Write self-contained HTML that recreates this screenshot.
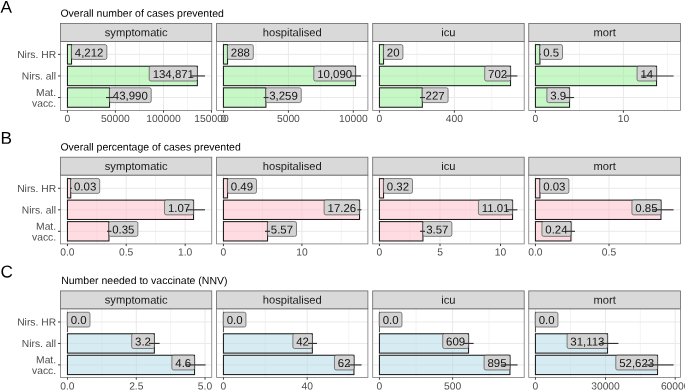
<!DOCTYPE html>
<html><head><meta charset="utf-8"><title>Figure</title>
<style>html,body{margin:0;padding:0;background:#fff;overflow:hidden}body{width:685px;height:390px;font-family:"Liberation Sans", sans-serif}</style>
</head><body>
<svg width="685" height="390" viewBox="0 0 685 390" style="display:block;will-change:transform;font-family:'Liberation Sans', sans-serif">
<rect width="685" height="390" fill="#fff"/>
<text x="0.60" y="12.70" font-size="17.2" fill="#000" transform="rotate(0.05 0.60 12.70)">A</text>
<text x="60.40" y="16.75" font-size="10.5" fill="#000" transform="rotate(0.05 60.40 16.75)">Overall number of cases prevented</text>
<rect x="60.55" y="41.40" width="151.2" height="69.10" fill="#fff"/>
<line x1="91.40" x2="91.40" y1="41.40" y2="110.50" stroke="#ebebeb" stroke-width="0.6"/>
<line x1="139.50" x2="139.50" y1="41.40" y2="110.50" stroke="#ebebeb" stroke-width="0.6"/>
<line x1="187.50" x2="187.50" y1="41.40" y2="110.50" stroke="#ebebeb" stroke-width="0.6"/>
<line x1="67.46" x2="67.46" y1="41.40" y2="110.50" stroke="#e9e9e9" stroke-width="1.0"/>
<line x1="115.40" x2="115.40" y1="41.40" y2="110.50" stroke="#e9e9e9" stroke-width="1.0"/>
<line x1="163.50" x2="163.50" y1="41.40" y2="110.50" stroke="#e9e9e9" stroke-width="1.0"/>
<line x1="211.50" x2="211.50" y1="41.40" y2="110.50" stroke="#e9e9e9" stroke-width="1.0"/>
<line x1="60.55" x2="211.75" y1="54.36" y2="54.36" stroke="#e9e9e9" stroke-width="1.0"/>
<line x1="60.55" x2="211.75" y1="75.95" y2="75.95" stroke="#e9e9e9" stroke-width="1.0"/>
<line x1="60.55" x2="211.75" y1="97.54" y2="97.54" stroke="#e9e9e9" stroke-width="1.0"/>
<rect x="67.46" y="44.64" width="4.09" height="19.43" fill="#90ee90" fill-opacity="0.5" stroke="#1c1c1c" stroke-width="1.05"/>
<rect x="67.46" y="66.23" width="129.89" height="19.43" fill="#90ee90" fill-opacity="0.5" stroke="#1c1c1c" stroke-width="1.05"/>
<rect x="67.46" y="87.83" width="42.09" height="19.43" fill="#90ee90" fill-opacity="0.5" stroke="#1c1c1c" stroke-width="1.05"/>
<rect x="71.40" y="44.61" width="35.45" height="14.8" rx="1.7" fill="#d3d3d3" stroke="#3a3a3a" stroke-width="0.62"/>
<text x="89.12" y="56.46" font-size="11.45" text-anchor="middle" fill="#111" transform="rotate(0.05 89.12 56.46)">4,212</text>
<rect x="149.22" y="66.20" width="48.18" height="14.8" rx="1.7" fill="#d3d3d3" stroke="#3a3a3a" stroke-width="0.62"/>
<text x="173.31" y="78.05" font-size="11.45" text-anchor="middle" fill="#111" transform="rotate(0.05 173.31 78.05)">134,871</text>
<rect x="109.40" y="87.79" width="41.81" height="14.8" rx="1.7" fill="#d3d3d3" stroke="#3a3a3a" stroke-width="0.62"/>
<text x="130.31" y="99.64" font-size="11.45" text-anchor="middle" fill="#111" transform="rotate(0.05 130.31 99.64)">43,990</text>
<line x1="191.00" x2="205.00" y1="75.95" y2="75.95" stroke="#303030" stroke-width="1.15"/>
<line x1="106.00" x2="113.50" y1="97.54" y2="97.54" stroke="#303030" stroke-width="1.15"/>
<rect x="60.55" y="41.40" width="151.2" height="69.10" fill="none" stroke="#7a7a7a" stroke-width="0.8"/>
<rect x="60.55" y="23.45" width="151.2" height="17.95" fill="#d9d9d9" stroke="#666" stroke-width="0.8"/>
<text x="136.15" y="36.20" font-size="11.2" text-anchor="middle" fill="#1a1a1a" transform="rotate(0.05 136.15 36.20)">symptomatic</text>
<line x1="67.46" x2="67.46" y1="110.50" y2="112.70" stroke="#333" stroke-width="0.95"/>
<text x="67.46" y="122.00" font-size="10.3" text-anchor="middle" fill="#4d4d4d" transform="rotate(0.05 67.46 122.00)">0</text>
<line x1="115.40" x2="115.40" y1="110.50" y2="112.70" stroke="#333" stroke-width="0.95"/>
<text x="115.40" y="122.00" font-size="10.3" text-anchor="middle" fill="#4d4d4d" transform="rotate(0.05 115.40 122.00)">50000</text>
<line x1="163.50" x2="163.50" y1="110.50" y2="112.70" stroke="#333" stroke-width="0.95"/>
<text x="163.50" y="122.00" font-size="10.3" text-anchor="middle" fill="#4d4d4d" transform="rotate(0.05 163.50 122.00)">100000</text>
<line x1="211.50" x2="211.50" y1="110.50" y2="112.70" stroke="#333" stroke-width="0.95"/>
<text x="211.50" y="122.00" font-size="10.3" text-anchor="middle" fill="#4d4d4d" transform="rotate(0.05 211.50 122.00)">150000</text>
<rect x="216.60" y="41.40" width="151.29999999999998" height="69.10" fill="#fff"/>
<line x1="256.00" x2="256.00" y1="41.40" y2="110.50" stroke="#ebebeb" stroke-width="0.6"/>
<line x1="320.80" x2="320.80" y1="41.40" y2="110.50" stroke="#ebebeb" stroke-width="0.6"/>
<line x1="223.44" x2="223.44" y1="41.40" y2="110.50" stroke="#e9e9e9" stroke-width="1.0"/>
<line x1="288.40" x2="288.40" y1="41.40" y2="110.50" stroke="#e9e9e9" stroke-width="1.0"/>
<line x1="353.30" x2="353.30" y1="41.40" y2="110.50" stroke="#e9e9e9" stroke-width="1.0"/>
<line x1="216.60" x2="367.90" y1="54.36" y2="54.36" stroke="#e9e9e9" stroke-width="1.0"/>
<line x1="216.60" x2="367.90" y1="75.95" y2="75.95" stroke="#e9e9e9" stroke-width="1.0"/>
<line x1="216.60" x2="367.90" y1="97.54" y2="97.54" stroke="#e9e9e9" stroke-width="1.0"/>
<rect x="223.44" y="44.64" width="4.11" height="19.43" fill="#90ee90" fill-opacity="0.5" stroke="#1c1c1c" stroke-width="1.05"/>
<rect x="223.44" y="66.23" width="132.11" height="19.43" fill="#90ee90" fill-opacity="0.5" stroke="#1c1c1c" stroke-width="1.05"/>
<rect x="223.44" y="87.83" width="42.51" height="19.43" fill="#90ee90" fill-opacity="0.5" stroke="#1c1c1c" stroke-width="1.05"/>
<rect x="227.40" y="44.61" width="25.90" height="14.8" rx="1.7" fill="#d3d3d3" stroke="#3a3a3a" stroke-width="0.62"/>
<text x="240.35" y="56.46" font-size="11.45" text-anchor="middle" fill="#111" transform="rotate(0.05 240.35 56.46)">288</text>
<rect x="313.79" y="66.20" width="41.81" height="14.8" rx="1.7" fill="#d3d3d3" stroke="#3a3a3a" stroke-width="0.62"/>
<text x="334.69" y="78.05" font-size="11.45" text-anchor="middle" fill="#111" transform="rotate(0.05 334.69 78.05)">10,090</text>
<rect x="265.80" y="87.79" width="35.45" height="14.8" rx="1.7" fill="#d3d3d3" stroke="#3a3a3a" stroke-width="0.62"/>
<text x="283.52" y="99.64" font-size="11.45" text-anchor="middle" fill="#111" transform="rotate(0.05 283.52 99.64)">3,259</text>
<line x1="350.00" x2="361.00" y1="75.95" y2="75.95" stroke="#303030" stroke-width="1.15"/>
<line x1="263.60" x2="268.60" y1="97.54" y2="97.54" stroke="#303030" stroke-width="1.15"/>
<rect x="216.60" y="41.40" width="151.29999999999998" height="69.10" fill="none" stroke="#7a7a7a" stroke-width="0.8"/>
<rect x="216.60" y="23.45" width="151.29999999999998" height="17.95" fill="#d9d9d9" stroke="#666" stroke-width="0.8"/>
<text x="292.25" y="36.20" font-size="11.2" text-anchor="middle" fill="#1a1a1a" transform="rotate(0.05 292.25 36.20)">hospitalised</text>
<line x1="223.44" x2="223.44" y1="110.50" y2="112.70" stroke="#333" stroke-width="0.95"/>
<text x="223.44" y="122.00" font-size="10.3" text-anchor="middle" fill="#4d4d4d" transform="rotate(0.05 223.44 122.00)">0</text>
<line x1="288.40" x2="288.40" y1="110.50" y2="112.70" stroke="#333" stroke-width="0.95"/>
<text x="288.40" y="122.00" font-size="10.3" text-anchor="middle" fill="#4d4d4d" transform="rotate(0.05 288.40 122.00)">5000</text>
<line x1="353.30" x2="353.30" y1="110.50" y2="112.70" stroke="#333" stroke-width="0.95"/>
<text x="353.30" y="122.00" font-size="10.3" text-anchor="middle" fill="#4d4d4d" transform="rotate(0.05 353.30 122.00)">10000</text>
<rect x="372.70" y="41.40" width="151.50000000000006" height="69.10" fill="#fff"/>
<line x1="417.00" x2="417.00" y1="41.40" y2="110.50" stroke="#ebebeb" stroke-width="0.6"/>
<line x1="491.80" x2="491.80" y1="41.40" y2="110.50" stroke="#ebebeb" stroke-width="0.6"/>
<line x1="379.44" x2="379.44" y1="41.40" y2="110.50" stroke="#e9e9e9" stroke-width="1.0"/>
<line x1="454.40" x2="454.40" y1="41.40" y2="110.50" stroke="#e9e9e9" stroke-width="1.0"/>
<line x1="372.70" x2="524.20" y1="54.36" y2="54.36" stroke="#e9e9e9" stroke-width="1.0"/>
<line x1="372.70" x2="524.20" y1="75.95" y2="75.95" stroke="#e9e9e9" stroke-width="1.0"/>
<line x1="372.70" x2="524.20" y1="97.54" y2="97.54" stroke="#e9e9e9" stroke-width="1.0"/>
<rect x="379.44" y="44.64" width="4.11" height="19.43" fill="#90ee90" fill-opacity="0.5" stroke="#1c1c1c" stroke-width="1.05"/>
<rect x="379.44" y="66.23" width="131.11" height="19.43" fill="#90ee90" fill-opacity="0.5" stroke="#1c1c1c" stroke-width="1.05"/>
<rect x="379.44" y="87.83" width="42.91" height="19.43" fill="#90ee90" fill-opacity="0.5" stroke="#1c1c1c" stroke-width="1.05"/>
<rect x="383.40" y="44.61" width="19.53" height="14.8" rx="1.7" fill="#d3d3d3" stroke="#3a3a3a" stroke-width="0.62"/>
<text x="393.17" y="56.46" font-size="11.45" text-anchor="middle" fill="#111" transform="rotate(0.05 393.17 56.46)">20</text>
<rect x="484.70" y="66.20" width="25.90" height="14.8" rx="1.7" fill="#d3d3d3" stroke="#3a3a3a" stroke-width="0.62"/>
<text x="497.65" y="78.05" font-size="11.45" text-anchor="middle" fill="#111" transform="rotate(0.05 497.65 78.05)">702</text>
<rect x="422.20" y="87.79" width="25.90" height="14.8" rx="1.7" fill="#d3d3d3" stroke="#3a3a3a" stroke-width="0.62"/>
<text x="435.15" y="99.64" font-size="11.45" text-anchor="middle" fill="#111" transform="rotate(0.05 435.15 99.64)">227</text>
<line x1="505.00" x2="517.40" y1="75.95" y2="75.95" stroke="#303030" stroke-width="1.15"/>
<line x1="420.00" x2="425.00" y1="97.54" y2="97.54" stroke="#303030" stroke-width="1.15"/>
<rect x="372.70" y="41.40" width="151.50000000000006" height="69.10" fill="none" stroke="#7a7a7a" stroke-width="0.8"/>
<rect x="372.70" y="23.45" width="151.50000000000006" height="17.95" fill="#d9d9d9" stroke="#666" stroke-width="0.8"/>
<text x="448.45" y="36.20" font-size="11.2" text-anchor="middle" fill="#1a1a1a" transform="rotate(0.05 448.45 36.20)">icu</text>
<line x1="379.44" x2="379.44" y1="110.50" y2="112.70" stroke="#333" stroke-width="0.95"/>
<text x="379.44" y="122.00" font-size="10.3" text-anchor="middle" fill="#4d4d4d" transform="rotate(0.05 379.44 122.00)">0</text>
<line x1="454.40" x2="454.40" y1="110.50" y2="112.70" stroke="#333" stroke-width="0.95"/>
<text x="454.40" y="122.00" font-size="10.3" text-anchor="middle" fill="#4d4d4d" transform="rotate(0.05 454.40 122.00)">400</text>
<rect x="528.75" y="41.40" width="151.75" height="69.10" fill="#fff"/>
<line x1="579.50" x2="579.50" y1="41.40" y2="110.50" stroke="#ebebeb" stroke-width="0.6"/>
<line x1="667.30" x2="667.30" y1="41.40" y2="110.50" stroke="#ebebeb" stroke-width="0.6"/>
<line x1="535.44" x2="535.44" y1="41.40" y2="110.50" stroke="#e9e9e9" stroke-width="1.0"/>
<line x1="623.40" x2="623.40" y1="41.40" y2="110.50" stroke="#e9e9e9" stroke-width="1.0"/>
<line x1="528.75" x2="680.50" y1="54.36" y2="54.36" stroke="#e9e9e9" stroke-width="1.0"/>
<line x1="528.75" x2="680.50" y1="75.95" y2="75.95" stroke="#e9e9e9" stroke-width="1.0"/>
<line x1="528.75" x2="680.50" y1="97.54" y2="97.54" stroke="#e9e9e9" stroke-width="1.0"/>
<rect x="535.44" y="44.64" width="4.51" height="19.43" fill="#90ee90" fill-opacity="0.5" stroke="#1c1c1c" stroke-width="1.05"/>
<rect x="535.44" y="66.23" width="121.11" height="19.43" fill="#90ee90" fill-opacity="0.5" stroke="#1c1c1c" stroke-width="1.05"/>
<rect x="535.44" y="87.83" width="34.11" height="19.43" fill="#90ee90" fill-opacity="0.5" stroke="#1c1c1c" stroke-width="1.05"/>
<rect x="539.80" y="44.61" width="22.72" height="14.8" rx="1.7" fill="#d3d3d3" stroke="#3a3a3a" stroke-width="0.62"/>
<text x="551.16" y="56.46" font-size="11.45" text-anchor="middle" fill="#111" transform="rotate(0.05 551.16 56.46)">0.5</text>
<rect x="637.07" y="66.20" width="19.53" height="14.8" rx="1.7" fill="#d3d3d3" stroke="#3a3a3a" stroke-width="0.62"/>
<text x="646.83" y="78.05" font-size="11.45" text-anchor="middle" fill="#111" transform="rotate(0.05 646.83 78.05)">14</text>
<rect x="546.88" y="87.79" width="22.72" height="14.8" rx="1.7" fill="#d3d3d3" stroke="#3a3a3a" stroke-width="0.62"/>
<text x="558.24" y="99.64" font-size="11.45" text-anchor="middle" fill="#111" transform="rotate(0.05 558.24 99.64)">3.9</text>
<line x1="539.80" x2="540.80" y1="54.36" y2="54.36" stroke="#303030" stroke-width="1.15"/>
<line x1="641.00" x2="673.60" y1="75.95" y2="75.95" stroke="#303030" stroke-width="1.15"/>
<line x1="565.00" x2="574.00" y1="97.54" y2="97.54" stroke="#303030" stroke-width="1.15"/>
<rect x="528.75" y="41.40" width="151.75" height="69.10" fill="none" stroke="#7a7a7a" stroke-width="0.8"/>
<rect x="528.75" y="23.45" width="151.75" height="17.95" fill="#d9d9d9" stroke="#666" stroke-width="0.8"/>
<text x="604.62" y="36.20" font-size="11.2" text-anchor="middle" fill="#1a1a1a" transform="rotate(0.05 604.62 36.20)">mort</text>
<line x1="535.44" x2="535.44" y1="110.50" y2="112.70" stroke="#333" stroke-width="0.95"/>
<text x="535.44" y="122.00" font-size="10.3" text-anchor="middle" fill="#4d4d4d" transform="rotate(0.05 535.44 122.00)">0</text>
<line x1="623.40" x2="623.40" y1="110.50" y2="112.70" stroke="#333" stroke-width="0.95"/>
<text x="623.40" y="122.00" font-size="10.3" text-anchor="middle" fill="#4d4d4d" transform="rotate(0.05 623.40 122.00)">10</text>
<line x1="58.0" x2="60.5" y1="54.36" y2="54.36" stroke="#333" stroke-width="0.95"/>
<text x="56.10" y="58.01" font-size="10.3" text-anchor="end" fill="#4d4d4d" transform="rotate(0.05 56.10 58.01)">Nirs. HR</text>
<line x1="58.0" x2="60.5" y1="75.95" y2="75.95" stroke="#333" stroke-width="0.95"/>
<text x="56.10" y="79.60" font-size="10.3" text-anchor="end" fill="#4d4d4d" transform="rotate(0.05 56.10 79.60)">Nirs. all</text>
<line x1="58.0" x2="60.5" y1="97.54" y2="97.54" stroke="#333" stroke-width="0.95"/>
<text x="56.10" y="95.94" font-size="10.3" text-anchor="end" fill="#4d4d4d" transform="rotate(0.05 56.10 95.94)">Mat.</text>
<text x="56.10" y="106.69" font-size="10.3" text-anchor="end" fill="#4d4d4d" transform="rotate(0.05 56.10 106.69)">vacc.</text>
<text x="0.60" y="143.80" font-size="17.2" fill="#000" transform="rotate(0.05 0.60 143.80)">B</text>
<text x="60.40" y="150.40" font-size="10.5" fill="#000" transform="rotate(0.05 60.40 150.40)">Overall percentage of cases prevented</text>
<rect x="60.55" y="175.10" width="151.2" height="68.80" fill="#fff"/>
<line x1="96.80" x2="96.80" y1="175.10" y2="243.90" stroke="#ebebeb" stroke-width="0.6"/>
<line x1="155.60" x2="155.60" y1="175.10" y2="243.90" stroke="#ebebeb" stroke-width="0.6"/>
<line x1="67.46" x2="67.46" y1="175.10" y2="243.90" stroke="#e9e9e9" stroke-width="1.0"/>
<line x1="126.20" x2="126.20" y1="175.10" y2="243.90" stroke="#e9e9e9" stroke-width="1.0"/>
<line x1="185.20" x2="185.20" y1="175.10" y2="243.90" stroke="#e9e9e9" stroke-width="1.0"/>
<line x1="60.55" x2="211.75" y1="188.30" y2="188.30" stroke="#e9e9e9" stroke-width="1.0"/>
<line x1="60.55" x2="211.75" y1="209.80" y2="209.80" stroke="#e9e9e9" stroke-width="1.0"/>
<line x1="60.55" x2="211.75" y1="231.30" y2="231.30" stroke="#e9e9e9" stroke-width="1.0"/>
<rect x="67.46" y="178.62" width="3.29" height="19.35" fill="#ffc0cb" fill-opacity="0.55" stroke="#1c1c1c" stroke-width="1.05"/>
<rect x="67.46" y="200.12" width="126.09" height="19.35" fill="#ffc0cb" fill-opacity="0.55" stroke="#1c1c1c" stroke-width="1.05"/>
<rect x="67.46" y="221.62" width="41.49" height="19.35" fill="#ffc0cb" fill-opacity="0.55" stroke="#1c1c1c" stroke-width="1.05"/>
<rect x="70.60" y="178.55" width="29.08" height="14.8" rx="1.7" fill="#d3d3d3" stroke="#3a3a3a" stroke-width="0.62"/>
<text x="85.14" y="190.40" font-size="11.45" text-anchor="middle" fill="#111" transform="rotate(0.05 85.14 190.40)">0.03</text>
<rect x="164.52" y="200.05" width="29.08" height="14.8" rx="1.7" fill="#d3d3d3" stroke="#3a3a3a" stroke-width="0.62"/>
<text x="179.06" y="211.90" font-size="11.45" text-anchor="middle" fill="#111" transform="rotate(0.05 179.06 211.90)">1.07</text>
<rect x="108.80" y="221.55" width="29.08" height="14.8" rx="1.7" fill="#d3d3d3" stroke="#3a3a3a" stroke-width="0.62"/>
<text x="123.34" y="233.40" font-size="11.45" text-anchor="middle" fill="#111" transform="rotate(0.05 123.34 233.40)">0.35</text>
<line x1="70.40" x2="71.80" y1="188.30" y2="188.30" stroke="#303030" stroke-width="1.15"/>
<line x1="187.00" x2="205.00" y1="209.80" y2="209.80" stroke="#303030" stroke-width="1.15"/>
<line x1="107.00" x2="111.50" y1="231.30" y2="231.30" stroke="#303030" stroke-width="1.15"/>
<rect x="60.55" y="175.10" width="151.2" height="68.80" fill="none" stroke="#7a7a7a" stroke-width="0.8"/>
<rect x="60.55" y="157.20" width="151.2" height="17.90" fill="#d9d9d9" stroke="#666" stroke-width="0.8"/>
<text x="136.15" y="169.95" font-size="11.2" text-anchor="middle" fill="#1a1a1a" transform="rotate(0.05 136.15 169.95)">symptomatic</text>
<line x1="67.46" x2="67.46" y1="243.90" y2="246.10" stroke="#333" stroke-width="0.95"/>
<text x="67.46" y="255.60" font-size="10.3" text-anchor="middle" fill="#4d4d4d" transform="rotate(0.05 67.46 255.60)">0.0</text>
<line x1="126.20" x2="126.20" y1="243.90" y2="246.10" stroke="#333" stroke-width="0.95"/>
<text x="126.20" y="255.60" font-size="10.3" text-anchor="middle" fill="#4d4d4d" transform="rotate(0.05 126.20 255.60)">0.5</text>
<line x1="185.20" x2="185.20" y1="243.90" y2="246.10" stroke="#333" stroke-width="0.95"/>
<text x="185.20" y="255.60" font-size="10.3" text-anchor="middle" fill="#4d4d4d" transform="rotate(0.05 185.20 255.60)">1.0</text>
<rect x="216.60" y="175.10" width="151.29999999999998" height="68.80" fill="#fff"/>
<line x1="262.60" x2="262.60" y1="175.10" y2="243.90" stroke="#ebebeb" stroke-width="0.6"/>
<line x1="341.30" x2="341.30" y1="175.10" y2="243.90" stroke="#ebebeb" stroke-width="0.6"/>
<line x1="223.44" x2="223.44" y1="175.10" y2="243.90" stroke="#e9e9e9" stroke-width="1.0"/>
<line x1="301.90" x2="301.90" y1="175.10" y2="243.90" stroke="#e9e9e9" stroke-width="1.0"/>
<line x1="216.60" x2="367.90" y1="188.30" y2="188.30" stroke="#e9e9e9" stroke-width="1.0"/>
<line x1="216.60" x2="367.90" y1="209.80" y2="209.80" stroke="#e9e9e9" stroke-width="1.0"/>
<line x1="216.60" x2="367.90" y1="231.30" y2="231.30" stroke="#e9e9e9" stroke-width="1.0"/>
<rect x="223.44" y="178.62" width="4.11" height="19.35" fill="#ffc0cb" fill-opacity="0.55" stroke="#1c1c1c" stroke-width="1.05"/>
<rect x="223.44" y="200.12" width="136.11" height="19.35" fill="#ffc0cb" fill-opacity="0.55" stroke="#1c1c1c" stroke-width="1.05"/>
<rect x="223.44" y="221.62" width="44.11" height="19.35" fill="#ffc0cb" fill-opacity="0.55" stroke="#1c1c1c" stroke-width="1.05"/>
<rect x="227.40" y="178.55" width="29.08" height="14.8" rx="1.7" fill="#d3d3d3" stroke="#3a3a3a" stroke-width="0.62"/>
<text x="241.94" y="190.40" font-size="11.45" text-anchor="middle" fill="#111" transform="rotate(0.05 241.94 190.40)">0.49</text>
<rect x="324.15" y="200.05" width="35.45" height="14.8" rx="1.7" fill="#d3d3d3" stroke="#3a3a3a" stroke-width="0.62"/>
<text x="341.88" y="211.90" font-size="11.45" text-anchor="middle" fill="#111" transform="rotate(0.05 341.88 211.90)">17.26</text>
<rect x="267.40" y="221.55" width="29.08" height="14.8" rx="1.7" fill="#d3d3d3" stroke="#3a3a3a" stroke-width="0.62"/>
<text x="281.94" y="233.40" font-size="11.45" text-anchor="middle" fill="#111" transform="rotate(0.05 281.94 233.40)">5.57</text>
<line x1="357.40" x2="361.40" y1="209.80" y2="209.80" stroke="#303030" stroke-width="1.15"/>
<line x1="265.00" x2="270.00" y1="231.30" y2="231.30" stroke="#303030" stroke-width="1.15"/>
<rect x="216.60" y="175.10" width="151.29999999999998" height="68.80" fill="none" stroke="#7a7a7a" stroke-width="0.8"/>
<rect x="216.60" y="157.20" width="151.29999999999998" height="17.90" fill="#d9d9d9" stroke="#666" stroke-width="0.8"/>
<text x="292.25" y="169.95" font-size="11.2" text-anchor="middle" fill="#1a1a1a" transform="rotate(0.05 292.25 169.95)">hospitalised</text>
<line x1="223.44" x2="223.44" y1="243.90" y2="246.10" stroke="#333" stroke-width="0.95"/>
<text x="223.44" y="255.60" font-size="10.3" text-anchor="middle" fill="#4d4d4d" transform="rotate(0.05 223.44 255.60)">0</text>
<line x1="301.90" x2="301.90" y1="243.90" y2="246.10" stroke="#333" stroke-width="0.95"/>
<text x="301.90" y="255.60" font-size="10.3" text-anchor="middle" fill="#4d4d4d" transform="rotate(0.05 301.90 255.60)">10</text>
<rect x="372.70" y="175.10" width="151.50000000000006" height="68.80" fill="#fff"/>
<line x1="409.80" x2="409.80" y1="175.10" y2="243.90" stroke="#ebebeb" stroke-width="0.6"/>
<line x1="470.40" x2="470.40" y1="175.10" y2="243.90" stroke="#ebebeb" stroke-width="0.6"/>
<line x1="379.44" x2="379.44" y1="175.10" y2="243.90" stroke="#e9e9e9" stroke-width="1.0"/>
<line x1="440.00" x2="440.00" y1="175.10" y2="243.90" stroke="#e9e9e9" stroke-width="1.0"/>
<line x1="500.50" x2="500.50" y1="175.10" y2="243.90" stroke="#e9e9e9" stroke-width="1.0"/>
<line x1="372.70" x2="524.20" y1="188.30" y2="188.30" stroke="#e9e9e9" stroke-width="1.0"/>
<line x1="372.70" x2="524.20" y1="209.80" y2="209.80" stroke="#e9e9e9" stroke-width="1.0"/>
<line x1="372.70" x2="524.20" y1="231.30" y2="231.30" stroke="#e9e9e9" stroke-width="1.0"/>
<rect x="379.44" y="178.62" width="4.11" height="19.35" fill="#ffc0cb" fill-opacity="0.55" stroke="#1c1c1c" stroke-width="1.05"/>
<rect x="379.44" y="200.12" width="133.11" height="19.35" fill="#ffc0cb" fill-opacity="0.55" stroke="#1c1c1c" stroke-width="1.05"/>
<rect x="379.44" y="221.62" width="43.51" height="19.35" fill="#ffc0cb" fill-opacity="0.55" stroke="#1c1c1c" stroke-width="1.05"/>
<rect x="383.40" y="178.55" width="29.08" height="14.8" rx="1.7" fill="#d3d3d3" stroke="#3a3a3a" stroke-width="0.62"/>
<text x="397.94" y="190.40" font-size="11.45" text-anchor="middle" fill="#111" transform="rotate(0.05 397.94 190.40)">0.32</text>
<rect x="478.45" y="200.05" width="34.15" height="14.8" rx="1.7" fill="#d3d3d3" stroke="#3a3a3a" stroke-width="0.62"/>
<text x="495.53" y="211.90" font-size="11.45" text-anchor="middle" fill="#111" transform="rotate(0.05 495.53 211.90)">11.01</text>
<rect x="422.80" y="221.55" width="29.08" height="14.8" rx="1.7" fill="#d3d3d3" stroke="#3a3a3a" stroke-width="0.62"/>
<text x="437.34" y="233.40" font-size="11.45" text-anchor="middle" fill="#111" transform="rotate(0.05 437.34 233.40)">3.57</text>
<line x1="506.60" x2="517.40" y1="209.80" y2="209.80" stroke="#303030" stroke-width="1.15"/>
<line x1="420.00" x2="425.00" y1="231.30" y2="231.30" stroke="#303030" stroke-width="1.15"/>
<rect x="372.70" y="175.10" width="151.50000000000006" height="68.80" fill="none" stroke="#7a7a7a" stroke-width="0.8"/>
<rect x="372.70" y="157.20" width="151.50000000000006" height="17.90" fill="#d9d9d9" stroke="#666" stroke-width="0.8"/>
<text x="448.45" y="169.95" font-size="11.2" text-anchor="middle" fill="#1a1a1a" transform="rotate(0.05 448.45 169.95)">icu</text>
<line x1="379.44" x2="379.44" y1="243.90" y2="246.10" stroke="#333" stroke-width="0.95"/>
<text x="379.44" y="255.60" font-size="10.3" text-anchor="middle" fill="#4d4d4d" transform="rotate(0.05 379.44 255.60)">0</text>
<line x1="440.00" x2="440.00" y1="243.90" y2="246.10" stroke="#333" stroke-width="0.95"/>
<text x="440.00" y="255.60" font-size="10.3" text-anchor="middle" fill="#4d4d4d" transform="rotate(0.05 440.00 255.60)">5</text>
<line x1="500.50" x2="500.50" y1="243.90" y2="246.10" stroke="#333" stroke-width="0.95"/>
<text x="500.50" y="255.60" font-size="10.3" text-anchor="middle" fill="#4d4d4d" transform="rotate(0.05 500.50 255.60)">10</text>
<rect x="528.75" y="175.10" width="151.75" height="68.80" fill="#fff"/>
<line x1="572.40" x2="572.40" y1="175.10" y2="243.90" stroke="#ebebeb" stroke-width="0.6"/>
<line x1="646.00" x2="646.00" y1="175.10" y2="243.90" stroke="#ebebeb" stroke-width="0.6"/>
<line x1="535.44" x2="535.44" y1="175.10" y2="243.90" stroke="#e9e9e9" stroke-width="1.0"/>
<line x1="609.00" x2="609.00" y1="175.10" y2="243.90" stroke="#e9e9e9" stroke-width="1.0"/>
<line x1="528.75" x2="680.50" y1="188.30" y2="188.30" stroke="#e9e9e9" stroke-width="1.0"/>
<line x1="528.75" x2="680.50" y1="209.80" y2="209.80" stroke="#e9e9e9" stroke-width="1.0"/>
<line x1="528.75" x2="680.50" y1="231.30" y2="231.30" stroke="#e9e9e9" stroke-width="1.0"/>
<rect x="535.44" y="178.62" width="4.51" height="19.35" fill="#ffc0cb" fill-opacity="0.55" stroke="#1c1c1c" stroke-width="1.05"/>
<rect x="535.44" y="200.12" width="125.51" height="19.35" fill="#ffc0cb" fill-opacity="0.55" stroke="#1c1c1c" stroke-width="1.05"/>
<rect x="535.44" y="221.62" width="35.51" height="19.35" fill="#ffc0cb" fill-opacity="0.55" stroke="#1c1c1c" stroke-width="1.05"/>
<rect x="539.80" y="178.55" width="29.08" height="14.8" rx="1.7" fill="#d3d3d3" stroke="#3a3a3a" stroke-width="0.62"/>
<text x="554.34" y="190.40" font-size="11.45" text-anchor="middle" fill="#111" transform="rotate(0.05 554.34 190.40)">0.03</text>
<rect x="631.92" y="200.05" width="29.08" height="14.8" rx="1.7" fill="#d3d3d3" stroke="#3a3a3a" stroke-width="0.62"/>
<text x="646.46" y="211.90" font-size="11.45" text-anchor="middle" fill="#111" transform="rotate(0.05 646.46 211.90)">0.85</text>
<rect x="541.92" y="221.55" width="29.08" height="14.8" rx="1.7" fill="#d3d3d3" stroke="#3a3a3a" stroke-width="0.62"/>
<text x="556.46" y="233.40" font-size="11.45" text-anchor="middle" fill="#111" transform="rotate(0.05 556.46 233.40)">0.24</text>
<line x1="652.00" x2="673.60" y1="209.80" y2="209.80" stroke="#303030" stroke-width="1.15"/>
<line x1="566.40" x2="575.00" y1="231.30" y2="231.30" stroke="#303030" stroke-width="1.15"/>
<rect x="528.75" y="175.10" width="151.75" height="68.80" fill="none" stroke="#7a7a7a" stroke-width="0.8"/>
<rect x="528.75" y="157.20" width="151.75" height="17.90" fill="#d9d9d9" stroke="#666" stroke-width="0.8"/>
<text x="604.62" y="169.95" font-size="11.2" text-anchor="middle" fill="#1a1a1a" transform="rotate(0.05 604.62 169.95)">mort</text>
<line x1="535.44" x2="535.44" y1="243.90" y2="246.10" stroke="#333" stroke-width="0.95"/>
<text x="535.44" y="255.60" font-size="10.3" text-anchor="middle" fill="#4d4d4d" transform="rotate(0.05 535.44 255.60)">0.0</text>
<line x1="609.00" x2="609.00" y1="243.90" y2="246.10" stroke="#333" stroke-width="0.95"/>
<text x="609.00" y="255.60" font-size="10.3" text-anchor="middle" fill="#4d4d4d" transform="rotate(0.05 609.00 255.60)">0.5</text>
<line x1="58.0" x2="60.5" y1="188.30" y2="188.30" stroke="#333" stroke-width="0.95"/>
<text x="56.10" y="191.95" font-size="10.3" text-anchor="end" fill="#4d4d4d" transform="rotate(0.05 56.10 191.95)">Nirs. HR</text>
<line x1="58.0" x2="60.5" y1="209.80" y2="209.80" stroke="#333" stroke-width="0.95"/>
<text x="56.10" y="213.45" font-size="10.3" text-anchor="end" fill="#4d4d4d" transform="rotate(0.05 56.10 213.45)">Nirs. all</text>
<line x1="58.0" x2="60.5" y1="231.30" y2="231.30" stroke="#333" stroke-width="0.95"/>
<text x="56.10" y="229.70" font-size="10.3" text-anchor="end" fill="#4d4d4d" transform="rotate(0.05 56.10 229.70)">Mat.</text>
<text x="56.10" y="240.45" font-size="10.3" text-anchor="end" fill="#4d4d4d" transform="rotate(0.05 56.10 240.45)">vacc.</text>
<text x="0.60" y="277.50" font-size="17.2" fill="#000" transform="rotate(0.05 0.60 277.50)">C</text>
<text x="61.20" y="284.00" font-size="10.5" fill="#000" transform="rotate(0.05 61.20 284.00)">Number needed to vaccinate (NNV)</text>
<rect x="60.55" y="308.80" width="151.2" height="68.70" fill="#fff"/>
<line x1="101.90" x2="101.90" y1="308.80" y2="377.50" stroke="#ebebeb" stroke-width="0.6"/>
<line x1="170.60" x2="170.60" y1="308.80" y2="377.50" stroke="#ebebeb" stroke-width="0.6"/>
<line x1="67.46" x2="67.46" y1="308.80" y2="377.50" stroke="#e9e9e9" stroke-width="1.0"/>
<line x1="136.30" x2="136.30" y1="308.80" y2="377.50" stroke="#e9e9e9" stroke-width="1.0"/>
<line x1="205.00" x2="205.00" y1="308.80" y2="377.50" stroke="#e9e9e9" stroke-width="1.0"/>
<line x1="60.55" x2="211.75" y1="321.98" y2="321.98" stroke="#e9e9e9" stroke-width="1.0"/>
<line x1="60.55" x2="211.75" y1="343.45" y2="343.45" stroke="#e9e9e9" stroke-width="1.0"/>
<line x1="60.55" x2="211.75" y1="364.92" y2="364.92" stroke="#e9e9e9" stroke-width="1.0"/>
<line x1="67.46" x2="67.46" y1="311.80" y2="332.17" stroke="#3a3a3a" stroke-width="0.9"/>
<rect x="67.46" y="333.79" width="86.89" height="19.32" fill="#add8e6" fill-opacity="0.5" stroke="#1c1c1c" stroke-width="1.05"/>
<rect x="67.46" y="355.26" width="127.09" height="19.32" fill="#add8e6" fill-opacity="0.5" stroke="#1c1c1c" stroke-width="1.05"/>
<rect x="67.26" y="312.23" width="22.72" height="14.8" rx="1.7" fill="#d3d3d3" stroke="#3a3a3a" stroke-width="0.62"/>
<text x="78.62" y="324.08" font-size="11.45" text-anchor="middle" fill="#111" transform="rotate(0.05 78.62 324.08)">0.0</text>
<rect x="131.68" y="333.70" width="22.72" height="14.8" rx="1.7" fill="#d3d3d3" stroke="#3a3a3a" stroke-width="0.62"/>
<text x="143.04" y="345.55" font-size="11.45" text-anchor="middle" fill="#111" transform="rotate(0.05 143.04 345.55)">3.2</text>
<rect x="171.88" y="355.17" width="22.72" height="14.8" rx="1.7" fill="#d3d3d3" stroke="#3a3a3a" stroke-width="0.62"/>
<text x="183.24" y="367.02" font-size="11.45" text-anchor="middle" fill="#111" transform="rotate(0.05 183.24 367.02)">4.6</text>
<line x1="149.00" x2="159.60" y1="343.45" y2="343.45" stroke="#303030" stroke-width="1.15"/>
<line x1="185.00" x2="205.60" y1="364.92" y2="364.92" stroke="#303030" stroke-width="1.15"/>
<rect x="60.55" y="308.80" width="151.2" height="68.70" fill="none" stroke="#7a7a7a" stroke-width="0.8"/>
<rect x="60.55" y="290.90" width="151.2" height="17.90" fill="#d9d9d9" stroke="#666" stroke-width="0.8"/>
<text x="136.15" y="303.65" font-size="11.2" text-anchor="middle" fill="#1a1a1a" transform="rotate(0.05 136.15 303.65)">symptomatic</text>
<line x1="67.46" x2="67.46" y1="377.50" y2="379.70" stroke="#333" stroke-width="0.95"/>
<text x="67.46" y="389.50" font-size="10.3" text-anchor="middle" fill="#4d4d4d" transform="rotate(0.05 67.46 389.50)">0.0</text>
<line x1="136.30" x2="136.30" y1="377.50" y2="379.70" stroke="#333" stroke-width="0.95"/>
<text x="136.30" y="389.50" font-size="10.3" text-anchor="middle" fill="#4d4d4d" transform="rotate(0.05 136.30 389.50)">2.5</text>
<line x1="205.00" x2="205.00" y1="377.50" y2="379.70" stroke="#333" stroke-width="0.95"/>
<text x="205.00" y="389.50" font-size="10.3" text-anchor="middle" fill="#4d4d4d" transform="rotate(0.05 205.00 389.50)">5.0</text>
<rect x="216.60" y="308.80" width="151.29999999999998" height="68.70" fill="#fff"/>
<line x1="265.20" x2="265.20" y1="308.80" y2="377.50" stroke="#ebebeb" stroke-width="0.6"/>
<line x1="348.80" x2="348.80" y1="308.80" y2="377.50" stroke="#ebebeb" stroke-width="0.6"/>
<line x1="223.44" x2="223.44" y1="308.80" y2="377.50" stroke="#e9e9e9" stroke-width="1.0"/>
<line x1="307.20" x2="307.20" y1="308.80" y2="377.50" stroke="#e9e9e9" stroke-width="1.0"/>
<line x1="216.60" x2="367.90" y1="321.98" y2="321.98" stroke="#e9e9e9" stroke-width="1.0"/>
<line x1="216.60" x2="367.90" y1="343.45" y2="343.45" stroke="#e9e9e9" stroke-width="1.0"/>
<line x1="216.60" x2="367.90" y1="364.92" y2="364.92" stroke="#e9e9e9" stroke-width="1.0"/>
<line x1="223.44" x2="223.44" y1="311.80" y2="332.17" stroke="#3a3a3a" stroke-width="0.9"/>
<rect x="223.44" y="333.79" width="88.91" height="19.32" fill="#add8e6" fill-opacity="0.5" stroke="#1c1c1c" stroke-width="1.05"/>
<rect x="223.44" y="355.26" width="130.51" height="19.32" fill="#add8e6" fill-opacity="0.5" stroke="#1c1c1c" stroke-width="1.05"/>
<rect x="223.24" y="312.23" width="22.72" height="14.8" rx="1.7" fill="#d3d3d3" stroke="#3a3a3a" stroke-width="0.62"/>
<text x="234.60" y="324.08" font-size="11.45" text-anchor="middle" fill="#111" transform="rotate(0.05 234.60 324.08)">0.0</text>
<rect x="292.87" y="333.70" width="19.53" height="14.8" rx="1.7" fill="#d3d3d3" stroke="#3a3a3a" stroke-width="0.62"/>
<text x="302.63" y="345.55" font-size="11.45" text-anchor="middle" fill="#111" transform="rotate(0.05 302.63 345.55)">42</text>
<rect x="334.47" y="355.17" width="19.53" height="14.8" rx="1.7" fill="#d3d3d3" stroke="#3a3a3a" stroke-width="0.62"/>
<text x="344.23" y="367.02" font-size="11.45" text-anchor="middle" fill="#111" transform="rotate(0.05 344.23 367.02)">62</text>
<line x1="308.00" x2="317.00" y1="343.45" y2="343.45" stroke="#303030" stroke-width="1.15"/>
<line x1="348.00" x2="361.60" y1="364.92" y2="364.92" stroke="#303030" stroke-width="1.15"/>
<rect x="216.60" y="308.80" width="151.29999999999998" height="68.70" fill="none" stroke="#7a7a7a" stroke-width="0.8"/>
<rect x="216.60" y="290.90" width="151.29999999999998" height="17.90" fill="#d9d9d9" stroke="#666" stroke-width="0.8"/>
<text x="292.25" y="303.65" font-size="11.2" text-anchor="middle" fill="#1a1a1a" transform="rotate(0.05 292.25 303.65)">hospitalised</text>
<line x1="223.44" x2="223.44" y1="377.50" y2="379.70" stroke="#333" stroke-width="0.95"/>
<text x="223.44" y="389.50" font-size="10.3" text-anchor="middle" fill="#4d4d4d" transform="rotate(0.05 223.44 389.50)">0</text>
<line x1="307.20" x2="307.20" y1="377.50" y2="379.70" stroke="#333" stroke-width="0.95"/>
<text x="307.20" y="389.50" font-size="10.3" text-anchor="middle" fill="#4d4d4d" transform="rotate(0.05 307.20 389.50)">40</text>
<rect x="372.70" y="308.80" width="151.50000000000006" height="68.70" fill="#fff"/>
<line x1="416.10" x2="416.10" y1="308.80" y2="377.50" stroke="#ebebeb" stroke-width="0.6"/>
<line x1="489.10" x2="489.10" y1="308.80" y2="377.50" stroke="#ebebeb" stroke-width="0.6"/>
<line x1="379.44" x2="379.44" y1="308.80" y2="377.50" stroke="#e9e9e9" stroke-width="1.0"/>
<line x1="452.60" x2="452.60" y1="308.80" y2="377.50" stroke="#e9e9e9" stroke-width="1.0"/>
<line x1="372.70" x2="524.20" y1="321.98" y2="321.98" stroke="#e9e9e9" stroke-width="1.0"/>
<line x1="372.70" x2="524.20" y1="343.45" y2="343.45" stroke="#e9e9e9" stroke-width="1.0"/>
<line x1="372.70" x2="524.20" y1="364.92" y2="364.92" stroke="#e9e9e9" stroke-width="1.0"/>
<line x1="379.44" x2="379.44" y1="311.80" y2="332.17" stroke="#3a3a3a" stroke-width="0.9"/>
<rect x="379.44" y="333.79" width="89.11" height="19.32" fill="#add8e6" fill-opacity="0.5" stroke="#1c1c1c" stroke-width="1.05"/>
<rect x="379.44" y="355.26" width="130.51" height="19.32" fill="#add8e6" fill-opacity="0.5" stroke="#1c1c1c" stroke-width="1.05"/>
<rect x="379.24" y="312.23" width="22.72" height="14.8" rx="1.7" fill="#d3d3d3" stroke="#3a3a3a" stroke-width="0.62"/>
<text x="390.60" y="324.08" font-size="11.45" text-anchor="middle" fill="#111" transform="rotate(0.05 390.60 324.08)">0.0</text>
<rect x="442.70" y="333.70" width="25.90" height="14.8" rx="1.7" fill="#d3d3d3" stroke="#3a3a3a" stroke-width="0.62"/>
<text x="455.65" y="345.55" font-size="11.45" text-anchor="middle" fill="#111" transform="rotate(0.05 455.65 345.55)">609</text>
<rect x="484.10" y="355.17" width="25.90" height="14.8" rx="1.7" fill="#d3d3d3" stroke="#3a3a3a" stroke-width="0.62"/>
<text x="497.05" y="367.02" font-size="11.45" text-anchor="middle" fill="#111" transform="rotate(0.05 497.05 367.02)">895</text>
<line x1="463.60" x2="473.60" y1="343.45" y2="343.45" stroke="#303030" stroke-width="1.15"/>
<line x1="501.00" x2="517.60" y1="364.92" y2="364.92" stroke="#303030" stroke-width="1.15"/>
<rect x="372.70" y="308.80" width="151.50000000000006" height="68.70" fill="none" stroke="#7a7a7a" stroke-width="0.8"/>
<rect x="372.70" y="290.90" width="151.50000000000006" height="17.90" fill="#d9d9d9" stroke="#666" stroke-width="0.8"/>
<text x="448.45" y="303.65" font-size="11.2" text-anchor="middle" fill="#1a1a1a" transform="rotate(0.05 448.45 303.65)">icu</text>
<line x1="379.44" x2="379.44" y1="377.50" y2="379.70" stroke="#333" stroke-width="0.95"/>
<text x="379.44" y="389.50" font-size="10.3" text-anchor="middle" fill="#4d4d4d" transform="rotate(0.05 379.44 389.50)">0</text>
<line x1="452.60" x2="452.60" y1="377.50" y2="379.70" stroke="#333" stroke-width="0.95"/>
<text x="452.60" y="389.50" font-size="10.3" text-anchor="middle" fill="#4d4d4d" transform="rotate(0.05 452.60 389.50)">500</text>
<rect x="528.75" y="308.80" width="151.75" height="68.70" fill="#fff"/>
<line x1="570.50" x2="570.50" y1="308.80" y2="377.50" stroke="#ebebeb" stroke-width="0.6"/>
<line x1="640.30" x2="640.30" y1="308.80" y2="377.50" stroke="#ebebeb" stroke-width="0.6"/>
<line x1="535.44" x2="535.44" y1="308.80" y2="377.50" stroke="#e9e9e9" stroke-width="1.0"/>
<line x1="605.50" x2="605.50" y1="308.80" y2="377.50" stroke="#e9e9e9" stroke-width="1.0"/>
<line x1="675.20" x2="675.20" y1="308.80" y2="377.50" stroke="#e9e9e9" stroke-width="1.0"/>
<line x1="528.75" x2="680.50" y1="321.98" y2="321.98" stroke="#e9e9e9" stroke-width="1.0"/>
<line x1="528.75" x2="680.50" y1="343.45" y2="343.45" stroke="#e9e9e9" stroke-width="1.0"/>
<line x1="528.75" x2="680.50" y1="364.92" y2="364.92" stroke="#e9e9e9" stroke-width="1.0"/>
<line x1="535.44" x2="535.44" y1="311.80" y2="332.17" stroke="#3a3a3a" stroke-width="0.9"/>
<rect x="535.44" y="333.79" width="72.11" height="19.32" fill="#add8e6" fill-opacity="0.5" stroke="#1c1c1c" stroke-width="1.05"/>
<rect x="535.44" y="355.26" width="122.11" height="19.32" fill="#add8e6" fill-opacity="0.5" stroke="#1c1c1c" stroke-width="1.05"/>
<rect x="535.24" y="312.23" width="22.72" height="14.8" rx="1.7" fill="#d3d3d3" stroke="#3a3a3a" stroke-width="0.62"/>
<text x="546.60" y="324.08" font-size="11.45" text-anchor="middle" fill="#111" transform="rotate(0.05 546.60 324.08)">0.0</text>
<rect x="567.09" y="333.70" width="40.51" height="14.8" rx="1.7" fill="#d3d3d3" stroke="#3a3a3a" stroke-width="0.62"/>
<text x="587.34" y="345.55" font-size="11.45" text-anchor="middle" fill="#111" transform="rotate(0.05 587.34 345.55)">31,113</text>
<rect x="615.79" y="355.17" width="41.81" height="14.8" rx="1.7" fill="#d3d3d3" stroke="#3a3a3a" stroke-width="0.62"/>
<text x="636.69" y="367.02" font-size="11.45" text-anchor="middle" fill="#111" transform="rotate(0.05 636.69 367.02)">52,623</text>
<line x1="599.00" x2="618.40" y1="343.45" y2="343.45" stroke="#303030" stroke-width="1.15"/>
<line x1="645.00" x2="673.60" y1="364.92" y2="364.92" stroke="#303030" stroke-width="1.15"/>
<rect x="528.75" y="308.80" width="151.75" height="68.70" fill="none" stroke="#7a7a7a" stroke-width="0.8"/>
<rect x="528.75" y="290.90" width="151.75" height="17.90" fill="#d9d9d9" stroke="#666" stroke-width="0.8"/>
<text x="604.62" y="303.65" font-size="11.2" text-anchor="middle" fill="#1a1a1a" transform="rotate(0.05 604.62 303.65)">mort</text>
<line x1="535.44" x2="535.44" y1="377.50" y2="379.70" stroke="#333" stroke-width="0.95"/>
<text x="535.44" y="389.50" font-size="10.3" text-anchor="middle" fill="#4d4d4d" transform="rotate(0.05 535.44 389.50)">0</text>
<line x1="605.50" x2="605.50" y1="377.50" y2="379.70" stroke="#333" stroke-width="0.95"/>
<text x="605.50" y="389.50" font-size="10.3" text-anchor="middle" fill="#4d4d4d" transform="rotate(0.05 605.50 389.50)">30000</text>
<line x1="675.20" x2="675.20" y1="377.50" y2="379.70" stroke="#333" stroke-width="0.95"/>
<text x="675.20" y="389.50" font-size="10.3" text-anchor="middle" fill="#4d4d4d" transform="rotate(0.05 675.20 389.50)">60000</text>
<line x1="58.0" x2="60.5" y1="321.98" y2="321.98" stroke="#333" stroke-width="0.95"/>
<text x="56.10" y="325.63" font-size="10.3" text-anchor="end" fill="#4d4d4d" transform="rotate(0.05 56.10 325.63)">Nirs. HR</text>
<line x1="58.0" x2="60.5" y1="343.45" y2="343.45" stroke="#333" stroke-width="0.95"/>
<text x="56.10" y="347.10" font-size="10.3" text-anchor="end" fill="#4d4d4d" transform="rotate(0.05 56.10 347.10)">Nirs. all</text>
<line x1="58.0" x2="60.5" y1="364.92" y2="364.92" stroke="#333" stroke-width="0.95"/>
<text x="56.10" y="363.32" font-size="10.3" text-anchor="end" fill="#4d4d4d" transform="rotate(0.05 56.10 363.32)">Mat.</text>
<text x="56.10" y="374.07" font-size="10.3" text-anchor="end" fill="#4d4d4d" transform="rotate(0.05 56.10 374.07)">vacc.</text>
</svg>
</body></html>
